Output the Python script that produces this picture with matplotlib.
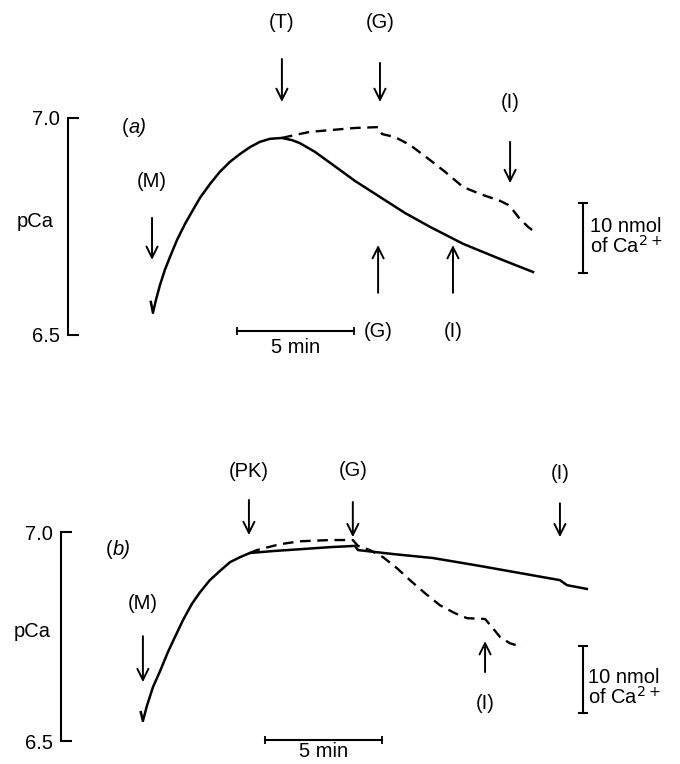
import matplotlib.pyplot as plt

plt.rcParams['font.family'] = ['Liberation Sans', 'DejaVu Sans']

# ---- panel (a): time in min after (M), pCa ----
a_t_solid = [-0.09, 0.0, 0.13, 0.30, 0.51, 0.73, 1.03, 1.37, 1.71, 2.01, 2.44,
             2.86, 3.29, 3.72, 4.15, 4.57, 5.00, 5.51, 5.94, 6.28, 6.92, 7.69,
             8.63, 9.70, 10.77, 11.84, 13.25, 14.83, 16.24]
a_pca_solid = [6.576, 6.551, 6.581, 6.615, 6.650, 6.680, 6.719, 6.756, 6.788,
               6.816, 6.848, 6.876, 6.899, 6.917, 6.933, 6.945, 6.952, 6.954,
               6.949, 6.942, 6.922, 6.892, 6.855, 6.818, 6.781, 6.749, 6.710,
               6.675, 6.645]
a_t_dash = [5.51, 6.07, 6.71, 7.56, 8.63, 9.62, 9.79, 10.34, 10.98, 11.84,
            12.48, 13.25, 13.97, 14.83, 15.17, 15.38, 15.68, 16.03, 16.41]
a_pca_dash = [6.954, 6.961, 6.968, 6.972, 6.977, 6.979, 6.963, 6.956, 6.938,
              6.903, 6.876, 6.841, 6.825, 6.809, 6.800, 6.788, 6.767, 6.749,
              6.733]

# additions: label, time, arrow tail, arrow head, label height
a_adds = ['(T)', '(G)', '(I)', '(M)', '(G)', '(I)']
a_add_t = [5.51, 9.70, 15.26, -0.04, 9.62, 12.82]
a_tail = [7.136, 7.127, 6.945, 6.770, 6.597, 6.597]
a_head = [7.037, 7.037, 6.850, 6.673, 6.707, 6.707]
a_lab_y = [7.221, 7.221, 7.035, 6.853, 6.507, 6.507]

# ---- panel (b) ----
b_t_solid = [-0.09, 0.0, 0.17, 0.43, 0.73, 1.07, 1.37, 1.71, 2.09, 2.44, 2.86,
             3.29, 3.72, 4.15, 4.57, 5.64, 6.71, 7.99, 9.06, 9.19, 10.77,
             12.39, 14.40, 16.11, 17.82, 18.12, 18.97]
b_pca_solid = [6.569, 6.548, 6.584, 6.629, 6.667, 6.713, 6.749, 6.789, 6.828,
               6.856, 6.885, 6.907, 6.928, 6.940, 6.950, 6.955, 6.959, 6.964,
               6.967, 6.957, 6.947, 6.938, 6.919, 6.902, 6.885, 6.873, 6.864]
b_t_dash = [4.57, 4.87, 5.85, 6.71, 7.99, 8.97, 9.19, 9.70, 10.26, 10.85,
            11.41, 12.05, 12.69, 13.33, 13.85, 14.62, 14.91, 15.26, 15.68, 16.20]
b_pca_dash = [6.950, 6.957, 6.971, 6.978, 6.981, 6.981, 6.967, 6.957, 6.940,
              6.914, 6.885, 6.854, 6.825, 6.806, 6.794, 6.792, 6.773, 6.749,
              6.734, 6.725]

b_adds = ['(PK)', '(G)', '(I)', '(M)', '(I)']
b_add_t = [4.53, 8.97, 17.82, 0.0, 14.62]
b_tail = [7.077, 7.072, 7.069, 6.751, 6.665]
b_head = [6.993, 6.988, 6.988, 6.641, 6.739]
b_lab_y = [7.146, 7.148, 7.141, 6.828, 6.589]

pca_ticks = [6.5, 7.0]
pca_ticklabels = ['6.5', '7.0']

FS = 14.5


def draw_panel(ax, tag, t_s, p_s, t_d, p_d, adds, add_t, tail, head, lab_y,
               tag_pos, pca_pos, bar5, bar10):
    ax.plot(t_d, p_d, color='black', lw=1.7, ls=(0, (4.5, 2.8)))
    ax.plot(t_s, p_s, color='black', lw=1.8, solid_joinstyle='round')

    for name, t, y0, y1, ly in zip(adds, add_t, tail, head, lab_y):
        ax.annotate('', xy=(t, y1), xytext=(t, y0),
                    arrowprops=dict(arrowstyle='->', lw=1.4, color='black',
                                    shrinkA=0, shrinkB=0, mutation_scale=20))
        ax.text(t, ly, name, ha='center', va='center', fontsize=FS)

    ax.text(tag_pos[0], tag_pos[1], '(', ha='right', va='center', fontsize=FS)
    ax.text(tag_pos[0], tag_pos[1], tag + ')', ha='left', va='center', fontsize=FS,
            style='italic')
    ax.text(pca_pos[0], pca_pos[1], 'pCa', ha='center', va='center', fontsize=FS)

    # 5 min scale bar
    x0, x1, yb, ytxt = bar5
    ax.plot([x0, x1], [yb, yb], color='black', lw=1.5, marker='|', ms=6, mew=1.3)
    ax.text((x0 + x1) / 2, ytxt, '5 min', ha='center', va='center', fontsize=FS)

    # 10 nmol Ca scale bar
    xb, yb0, yb1, xt, yt = bar10
    ax.plot([xb, xb], [yb0, yb1], color='black', lw=1.5, marker='_', ms=7, mew=1.5)
    ax.text(xt, yt, '10 nmol\nof Ca$^{2+}$', ha='left', va='center', fontsize=FS,
            linespacing=0.95)

    # pCa bracket = left spine
    for s in ['top', 'right', 'bottom']:
        ax.spines[s].set_visible(False)
    ax.spines['left'].set_bounds(6.5, 7.0)
    ax.spines['left'].set_linewidth(1.5)
    ax.set_yticks(pca_ticks)
    ax.set_yticklabels(pca_ticklabels, fontsize=FS)
    ax.tick_params(axis='y', direction='in', length=8, width=1.5, pad=6)
    ax.set_xticks([])


fig = plt.figure(figsize=(6.8, 7.64), dpi=100)

ax_a = fig.add_axes([0.1, 0.5026, 0.9, 0.4974])
ax_a.set_xlim(-3.63, 22.52)
ax_a.set_ylim(6.396, 7.272)
draw_panel(ax_a, 'a', a_t_solid, a_pca_solid, a_t_dash, a_pca_dash,
           a_adds, a_add_t, a_tail, a_head, a_lab_y,
           tag_pos=(-1.05, 6.977), pca_pos=(-5.04, 6.762),
           bar5=(3.59, 8.59, 6.509, 6.470),
           bar10=(18.38, 6.804, 6.643, 18.68, 6.726))

ax_b = fig.add_axes([0.0897, 0.0, 0.9103, 0.5026])
ax_b.set_xlim(-3.50, 22.95)
ax_b.set_ylim(6.445, 7.364)
draw_panel(ax_b, 'b', b_t_solid, b_pca_solid, b_t_dash, b_pca_dash,
           b_adds, b_add_t, b_tail, b_head, b_lab_y,
           tag_pos=(-1.30, 6.959), pca_pos=(-4.74, 6.761),
           bar5=(5.21, 10.21, 6.502, 6.474),
           bar10=(18.80, 6.727, 6.567, 19.02, 6.628))

fig.savefig('out.png', dpi=100)
